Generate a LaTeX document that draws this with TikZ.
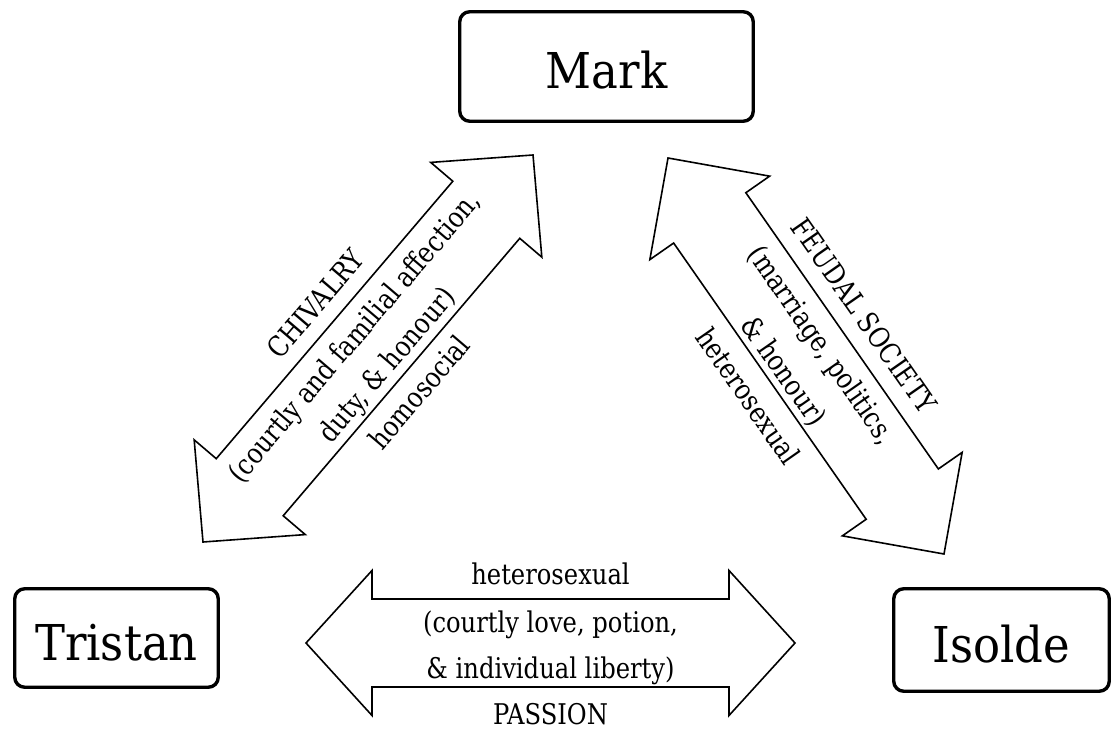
\documentclass[tikz,border=0pt]{standalone}
\usepackage{fontspec}
\setmainfont{DejaVu Serif}[FakeStretch=0.91]
\newfontfamily\lblfont{DejaVu Serif}[FakeStretch=0.85]
\usetikzlibrary{calc}
\newcommand\dblblock[5]{%
\draw[blockarrow] (#1)
 -- ($(#1)!#5!(#2)!#4!90:(#2)$)
 -- ($(#1)!#5!(#2)!#3!90:(#2)$)
 -- ($(#2)!#5!(#1)!#3!-90:(#1)$)
 -- ($(#2)!#5!(#1)!#4!-90:(#1)$)
 -- (#2)
 -- ($(#2)!#5!(#1)!#4!90:(#1)$)
 -- ($(#2)!#5!(#1)!#3!90:(#1)$)
 -- ($(#1)!#5!(#2)!#3!-90:(#2)$)
 -- ($(#1)!#5!(#2)!#4!-90:(#2)$)
 -- cycle;}
\begin{document}
\begin{tikzpicture}[x=1pt,y=-1pt,
  person/.style={draw, line width=3.4pt, rounded corners=10pt, inner sep=0pt,
    font=\fontsize{49.4}{55}\selectfont, text height=44.5pt, text depth=0pt},
  blockarrow/.style={draw, line width=1.6pt, line join=miter, fill=white},
  lbl/.style={font=\lblfont\fontsize{28.5}{32}\selectfont, inner sep=0pt, text height=21pt, text depth=0pt}]
\useasboundingbox[fill=white] (0,0) rectangle (1113,730);
% persons
\node[person, minimum width=293.5pt, minimum height=109.5pt] (mark) at (606.5,66.5) {Mark};
\node[person, minimum width=203.5pt, minimum height=98.5pt] (tristan) at (116.5,638) {Tristan};
\node[person, minimum width=215.5pt, minimum height=102.5pt] (isolde) at (1001.5,640) {Isolde};
% arrow tips
\coordinate (cA) at (203,542);
\coordinate (cB) at (533,155);
\coordinate (fA) at (668,158);
\coordinate (fB) at (944,554);
\coordinate (pA) at (306,643);
\coordinate (pB) at (795,643);
% block arrows
\dblblock{cA}{cB}{44pt}{73pt}{72pt}
\dblblock{fA}{fB}{44pt}{73pt}{73pt}
\dblblock{pA}{pB}{44pt}{72.5pt}{66pt}
% chivalry labels
\node[lbl, rotate=49.55] (c1) at ($(cA)!0.5!(cB)!69pt!90:(cB)$) {CHIVALRY};
\node[lbl, rotate=49.55] (c2) at ($(cA)!0.5!(cB)!19pt!90:(cB)$) {(courtly and familial affection,};
\node[lbl, rotate=49.55] (c3) at ($(cA)!0.5!(cB)!-24pt!90:(cB)$) {duty, \& honour)};
\node[lbl, rotate=49.55] (c4) at ($(cA)!0.5!(cB)!-67pt!90:(cB)$) {homosocial};
% feudal labels
\node[lbl, rotate=-55.13] (f1) at ($(fA)!0.5!(fB)!71pt!90:(fB)$) {FEUDAL SOCIETY};
\node[lbl, rotate=-55.13] (f2) at ($(fA)!0.5!(fB)!20pt!90:(fB)$) {(marriage, politics,};
\node[lbl, rotate=-55.13] (f3) at ($(fA)!0.5!(fB)!-26pt!90:(fB)$) {\& honour)};
\node[lbl, rotate=-55.13] (f4) at ($(fA)!0.5!(fB)!-70pt!90:(fB)$) {heterosexual};
% passion labels
\node[lbl] (p1) at ($(pA)!0.5!(pB)!69.5pt!90:(pB)$) {heterosexual};
\node[lbl] (p2) at ($(pA)!0.5!(pB)!21pt!90:(pB)$) {(courtly love, potion,};
\node[lbl] (p3) at ($(pA)!0.5!(pB)!-25pt!90:(pB)$) {\& individual liberty)};
\node[lbl] (p4) at ($(pA)!0.5!(pB)!-71pt!90:(pB)$) {PASSION};
\end{tikzpicture}
\end{document}
